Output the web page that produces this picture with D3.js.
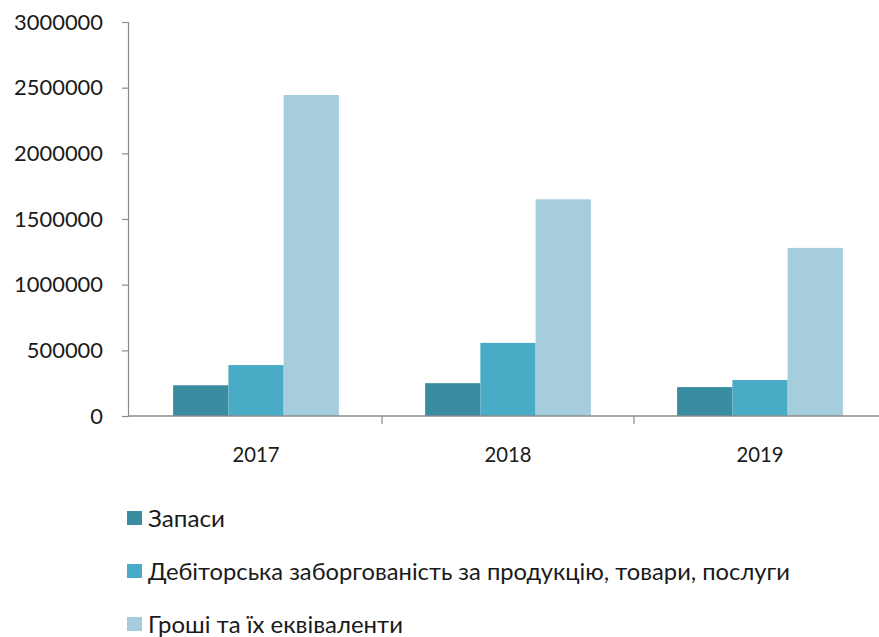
<!DOCTYPE html>
<html>
<head>
<meta charset="utf-8">
<script src="https://cdn.jsdelivr.net/npm/d3@7"></script>
<style>
  html, body { margin: 0; padding: 0; background: #ffffff; }
  svg { display: block; }
  text { font-family: Lato, "Open Sans", sans-serif; fill: #1a1a1a; }
</style>
</head>
<body>
<svg id="chart" width="879" height="637"></svg>
<script>
// Years on the category axis
const years = ["2017", "2018", "2019"];

// Series names (legend order) and their fill colours
const seriesNames = [
  "Запаси",
  "Дебіторська заборгованість за продукцію, товари, послуги",
  "Гроші та їх еквіваленти"
];
const seriesColors = ["#3a8ca1", "#4aabc7", "#a5cddc"];

// Values per series, one per year
const zapasy   = [234000, 250000, 220000];
const debitor  = [388000, 557000, 274000];
const groshi   = [2444000, 1650000, 1280000];
const seriesValues = [zapasy, debitor, groshi];

// Y axis ticks
const yTicks = [0, 500000, 1000000, 1500000, 2000000, 2500000, 3000000];

const svg = d3.select("#chart");
const plot = { left: 128, right: 886, top: 22, bottom: 416 };

const x0 = d3.scaleBand()
  .domain(years)
  .range([plot.left + 2, plot.right])
  .paddingInner(0)
  .paddingOuter(0);

const x1 = d3.scaleBand()
  .domain(d3.range(seriesNames.length))
  .range([0, x0.bandwidth()])
  .paddingOuter(0.78)
  .paddingInner(0);

const y = d3.scaleLinear()
  .domain([0, 3000000])
  .range([plot.bottom, plot.top]);

// Bars
const groups = svg.append("g")
  .selectAll("g")
  .data(years)
  .join("g")
  .attr("transform", d => `translate(${x0(d)},0)`);

groups.selectAll("rect")
  .data((yr, i) => seriesValues.map((vals, s) => ({ s, v: vals[i] })))
  .join("rect")
  .attr("x", d => x1(d.s))
  .attr("width", x1.bandwidth())
  .attr("y", d => y(d.v))
  .attr("height", d => y(0) - y(d.v))
  .attr("fill", d => seriesColors[d.s]);

// Y axis
const yAxis = d3.axisLeft(y)
  .tickValues(yTicks)
  .tickFormat(d3.format("d"))
  .tickSize(6)
  .tickPadding(19);

const gy = svg.append("g")
  .attr("transform", `translate(${plot.left},0)`)
  .call(yAxis);
gy.select(".domain").attr("stroke", "#8c8c8c").attr("stroke-width", 1.2);
gy.selectAll(".tick line").attr("stroke", "#8c8c8c").attr("stroke-width", 1.2);
gy.selectAll(".tick text")
  .style("font-size", "22px")
  .style("font-family", "Lato, sans-serif")
  .attr("fill", "#1a1a1a")
  .attr("textLength", d => String(d).length * 12.7)
  .attr("lengthAdjust", "spacingAndGlyphs");

// X axis with ticks between categories
const xAxisLine = svg.append("g");
xAxisLine.append("line")
  .attr("x1", plot.left).attr("x2", plot.right)
  .attr("y1", y(0)).attr("y2", y(0))
  .attr("stroke", "#8c8c8c").attr("stroke-width", 1.4);
xAxisLine.selectAll("line.sep")
  .data(years)
  .join("line")
  .attr("class", "sep")
  .attr("x1", d => x0(d) + x0.bandwidth())
  .attr("x2", d => x0(d) + x0.bandwidth())
  .attr("y1", y(0))
  .attr("y2", y(0) + 8)
  .attr("stroke", "#8c8c8c").attr("stroke-width", 1.2);
xAxisLine.selectAll("text")
  .data(years)
  .join("text")
  .attr("x", d => x0(d) + x1(1) + x1.bandwidth() / 2)
  .attr("y", y(0) + 46)
  .attr("text-anchor", "middle")
  .style("font-size", "22px")
  .attr("textLength", 47)
  .attr("lengthAdjust", "spacingAndGlyphs")
  .text(d => d);

// Legend
const legend = svg.append("g").attr("transform", "translate(127,511)");
const rowGap = 53;
const legendWidths = [77, 642, 255];
seriesNames.forEach((name, i) => {
  const row = legend.append("g").attr("transform", `translate(0,${i * rowGap})`);
  row.append("rect")
    .attr("x", 0).attr("y", 0)
    .attr("width", 15).attr("height", 14)
    .attr("fill", seriesColors[i]);
  row.append("text")
    .attr("x", 21)
    .attr("y", 16)
    .style("font-size", "23px")
    .attr("textLength", legendWidths[i])
    .attr("lengthAdjust", "spacingAndGlyphs")
    .text(name);
});
</script>
</body>
</html>
